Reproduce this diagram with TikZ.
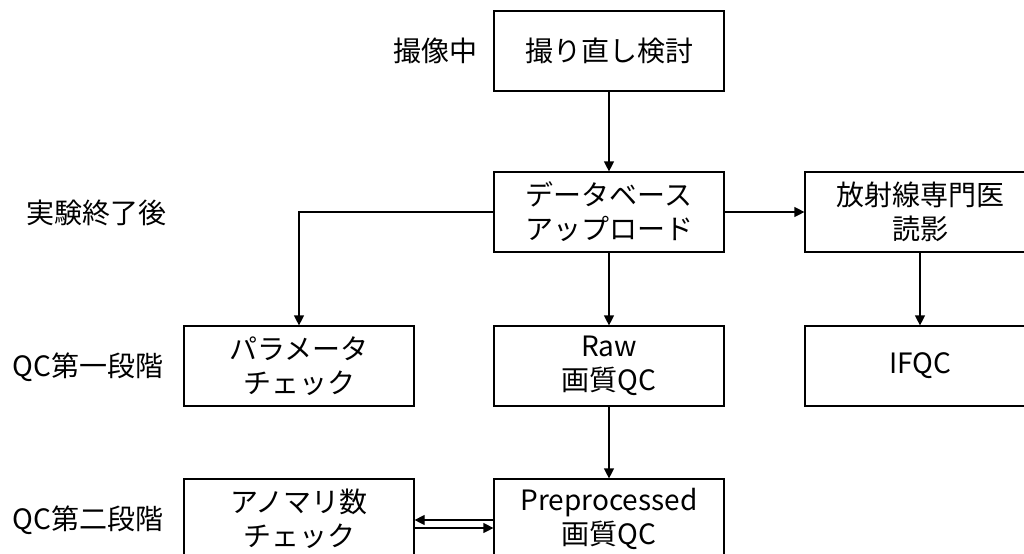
\documentclass[tikz,border=0pt]{standalone}
\usepackage{fontspec}
\setmainfont{Noto Sans CJK JP}
\usetikzlibrary{arrows.meta}

\begin{document}
\begin{tikzpicture}[x=0.5pt,y=-0.5pt,
    font={\fontsize{14pt}{17pt}\selectfont},
    >={Triangle[length=5pt,width=5pt]},
    line width=0.6pt,
    stepbox/.style={draw,minimum width=115pt,minimum height=40pt,align=center,inner sep=0pt},
    phase/.style={align=center,inner sep=0pt}]
        \useasboundingbox (0,0) rectangle (1024,553);

        % stage labels
        \path
        (435,51) node[phase] (during) {撮像中}
        (96,213) node[phase] (after) {実験終了後}
        (88,367) node[phase] (qcone) {QC第一段階}
        (88,520) node[phase] (qctwo) {QC第二段階}
        ;

        \path
        (609,51) node[stepbox] (retake) {撮り直し検討}
        (609,212) node[stepbox] (upload) {データベース\\アップロード}
        (920,212) node[stepbox] (radio) {放射線専門医\\読影}
        (299,366) node[stepbox] (param) {パラメータ\\チェック}
        (609,366) node[stepbox] (raw) {Raw\\画質QC}
        (920,366) node[stepbox] (ifqc) {IFQC}
        (299,519) node[stepbox] (anom) {アノマリ数\\チェック}
        (609,519) node[stepbox] (prep) {Preprocessed\\画質QC}
        ;

        \draw[->] (retake) -- (upload);
        \draw[->] (upload) -- (radio);
        \draw[->] (upload.west) -| (param.north);
        \draw[->] (upload) -- (raw);
        \draw[->] (radio) -- (ifqc);
        \draw[->] (raw) -- (prep);
        \draw[->] ([yshift=-0.5pt]prep.west) -- ([yshift=-0.5pt]anom.east);
        \draw[->] ([yshift=-4.5pt]anom.east) -- ([yshift=-4.5pt]prep.west);
      \end{tikzpicture}
\end{document}
